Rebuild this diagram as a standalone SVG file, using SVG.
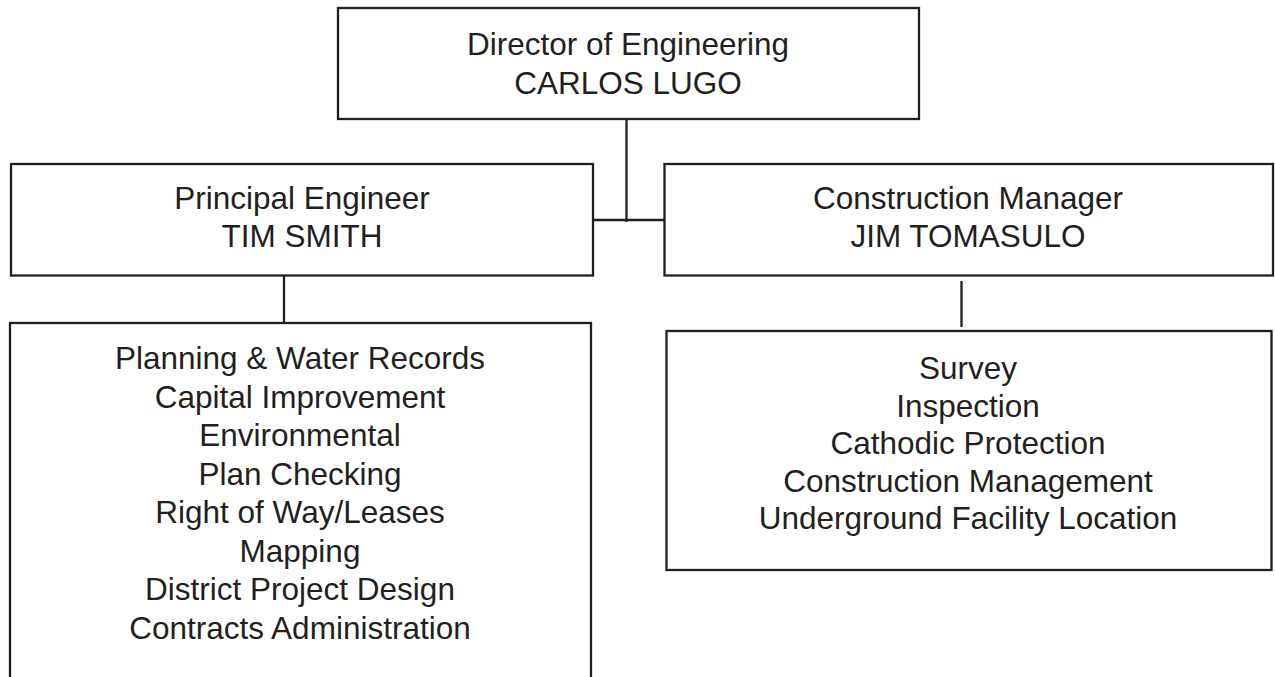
<svg xmlns="http://www.w3.org/2000/svg" width="1275" height="677" viewBox="0 0 1275 677">
  <style>
    .box { fill: #ffffff; stroke: #231f20; stroke-width: 2.3; }
    .wire { fill: none; stroke: #231f20; stroke-width: 2.3; }
    .label { font-family: "Liberation Sans", Arial, sans-serif; font-size: 31.5px; fill: #231f20; text-anchor: middle; }
  </style>
  <rect width="1275" height="677" fill="#ffffff"/>

  <!-- reporting lines -->
  <g id="connectors">
    <path class="wire" d="M626.5 119 V222"/>
    <path class="wire" d="M593 220 H664.5"/>
    <path class="wire" d="M284 276 V322"/>
    <path class="wire" d="M961.5 281 V327"/>
  </g>

  <g id="director">
    <rect class="box" x="338" y="8" width="581" height="111"/>
    <text class="label" x="628" y="55">Director of Engineering</text>
    <text class="label" x="628" y="94">CARLOS LUGO</text>
  </g>

  <g id="principal-engineer">
    <rect class="box" x="11" y="164" width="582" height="111.5"/>
    <text class="label" x="302" y="209">Principal Engineer</text>
    <text class="label" x="302" y="247">TIM SMITH</text>
  </g>

  <g id="construction-manager">
    <rect class="box" x="664.5" y="164" width="608.5" height="111.5"/>
    <text class="label" x="968" y="209">Construction Manager</text>
    <text class="label" x="968" y="247">JIM TOMASULO</text>
  </g>

  <g id="engineering-sections">
    <rect class="box" x="10" y="323" width="581" height="380"/>
    <text class="label" x="300" y="369">Planning &amp; Water Records</text>
    <text class="label" x="300" y="407.5">Capital Improvement</text>
    <text class="label" x="300" y="446">Environmental</text>
    <text class="label" x="300" y="484.5">Plan Checking</text>
    <text class="label" x="300" y="523">Right of Way/Leases</text>
    <text class="label" x="300" y="561.5">Mapping</text>
    <text class="label" x="300" y="600">District Project Design</text>
    <text class="label" x="300" y="638.5">Contracts Administration</text>
  </g>

  <g id="construction-sections">
    <rect class="box" x="666.5" y="331" width="605" height="239"/>
    <text class="label" x="968" y="378.5">Survey</text>
    <text class="label" x="968" y="416.5">Inspection</text>
    <text class="label" x="968" y="454">Cathodic Protection</text>
    <text class="label" x="968" y="491.5">Construction Management</text>
    <text class="label" x="968" y="529">Underground Facility Location</text>
  </g>
</svg>
